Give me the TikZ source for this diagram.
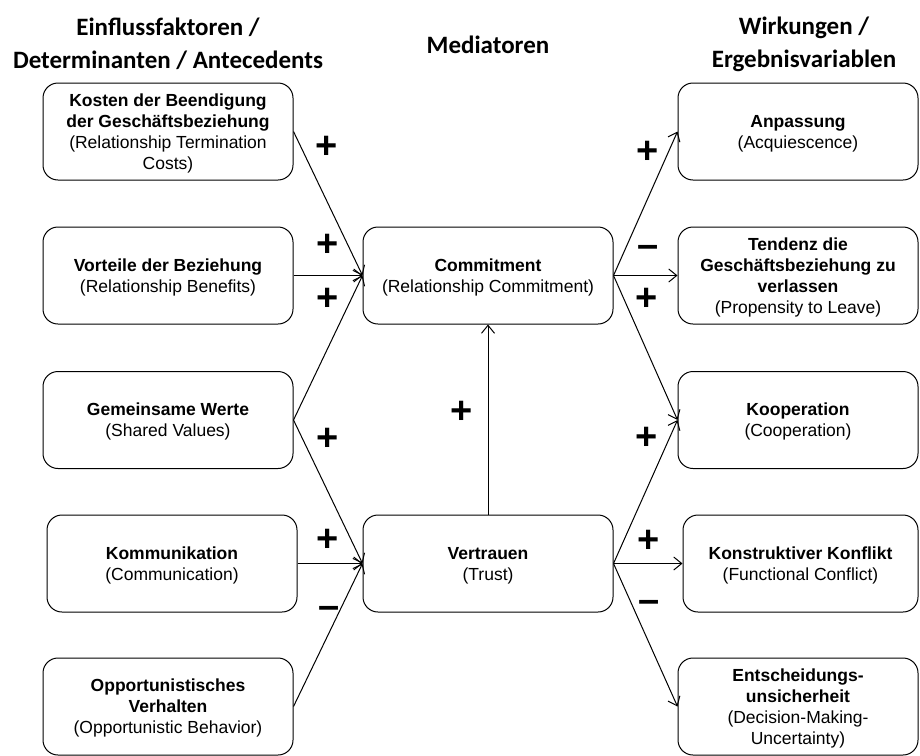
\documentclass[tikz,border=0pt]{standalone}
\usepackage{fontspec}
\setmainfont{Liberation Sans}
\newfontfamily\headfont{Carlito}
\usetikzlibrary{arrows.meta}

\begin{document}
\begin{tikzpicture}[
			x=1pt,
			y=-1pt,
			>={Straight Barb[length=8pt,width=13pt]},
			every node/.style={font=\fontsize{17.5}{21}\selectfont},
			factor/.style={draw, line width=1pt, rounded corners=15pt,
				minimum width=250pt, minimum height=97pt, align=center,
				text depth=-2.5pt},
			heading/.style={font=\headfont\bfseries\fontsize{25}{33}\selectfont, align=center},
			effect/.style={font=\bfseries\fontsize{38}{38}\selectfont,
				inner sep=0pt, text height=0.66em, text depth=0pt},
			link/.style={->, line width=1pt}
		]
			\useasboundingbox (0,0) rectangle (920,755);

			% column headings
			\node[heading] (hleft) at (168,44)
				{Einflussfaktoren /\\Determinanten / Antecedents};
			\node[heading] (hmid) at (488,45) {Mediatoren};
			\node[heading] (hright) at (804,44)
				{Wirkungen /\\Ergebnisvariablen};

			% antecedents
			\node[factor] (kosten) at (168,131.5)
				{\textbf{Kosten der Beendigung}\\\textbf{der Geschäftsbeziehung}\\(Relationship Termination\\Costs)};
			\node[factor] (vorteile) at (168,275.5)
				{\textbf{Vorteile der Beziehung}\\(Relationship Benefits)};
			\node[factor] (werte) at (168,420)
				{\textbf{Gemeinsame Werte}\\(Shared Values)};
			\node[factor] (komm) at (172,563.5)
				{\textbf{Kommunikation}\\(Communication)};
			\node[factor] (opport) at (168,706.5)
				{\textbf{Opportunistisches}\\\textbf{Verhalten}\\(Opportunistic Behavior)};

			% mediators
			\node[factor] (commit) at (488,275.5)
				{\textbf{Commitment}\\(Relationship Commitment)};
			\node[factor] (vertrauen) at (488,563.5)
				{\textbf{Vertrauen}\\(Trust)};

			% outcomes
			\node[factor, minimum width=240pt] (anpassung) at (798,131.5)
				{\textbf{Anpassung}\\(Acquiescence)};
			\node[factor, minimum width=240pt] (tendenz) at (798,275.5)
				{\textbf{Tendenz die}\\\textbf{Geschäftsbeziehung zu}\\\textbf{verlassen}\\(Propensity to Leave)};
			\node[factor, minimum width=240pt] (koop) at (798,420)
				{\textbf{Kooperation}\\(Cooperation)};
			\node[factor, minimum width=235pt] (konflikt) at (800.5,563.5)
				{\textbf{Konstruktiver Konflikt}\\(Functional Conflict)};
			\node[factor, minimum width=240pt] (entsch) at (798,706.5)
				{\textbf{Entscheidungs-}\\\textbf{unsicherheit}\\(Decision-Making-\\Uncertainty)};

			% relations
			\foreach \from/\to in {
				kosten/commit, vorteile/commit, werte/commit,
				werte/vertrauen, komm/vertrauen, opport/vertrauen,
				commit/anpassung, commit/tendenz, commit/koop,
				vertrauen/koop, vertrauen/konflikt, vertrauen/entsch}{
				\draw[link] (\from.east) -- (\to.west);
			}
			\draw[link] (vertrauen.north) -- (commit.south);

			% signs of the relations
			\foreach \name/\x/\y/\sign in {
				skosten/327/155/+, svorteile/328/253/+, swertec/328/307/+,
				swertev/328/447/+, skomm/328/548/+, sopport/329/615/–,
				strust/462/420/+,
				sanpassung/648/160/+, stendenz/648/254/–, skoopc/647/307/+,
				skoopv/647/446/+, skonflikt/649/549/+, sentsch/649/609/–}{
				\node[effect] (\name) at (\x,\y) {\sign};
			}
		\end{tikzpicture}
\end{document}
